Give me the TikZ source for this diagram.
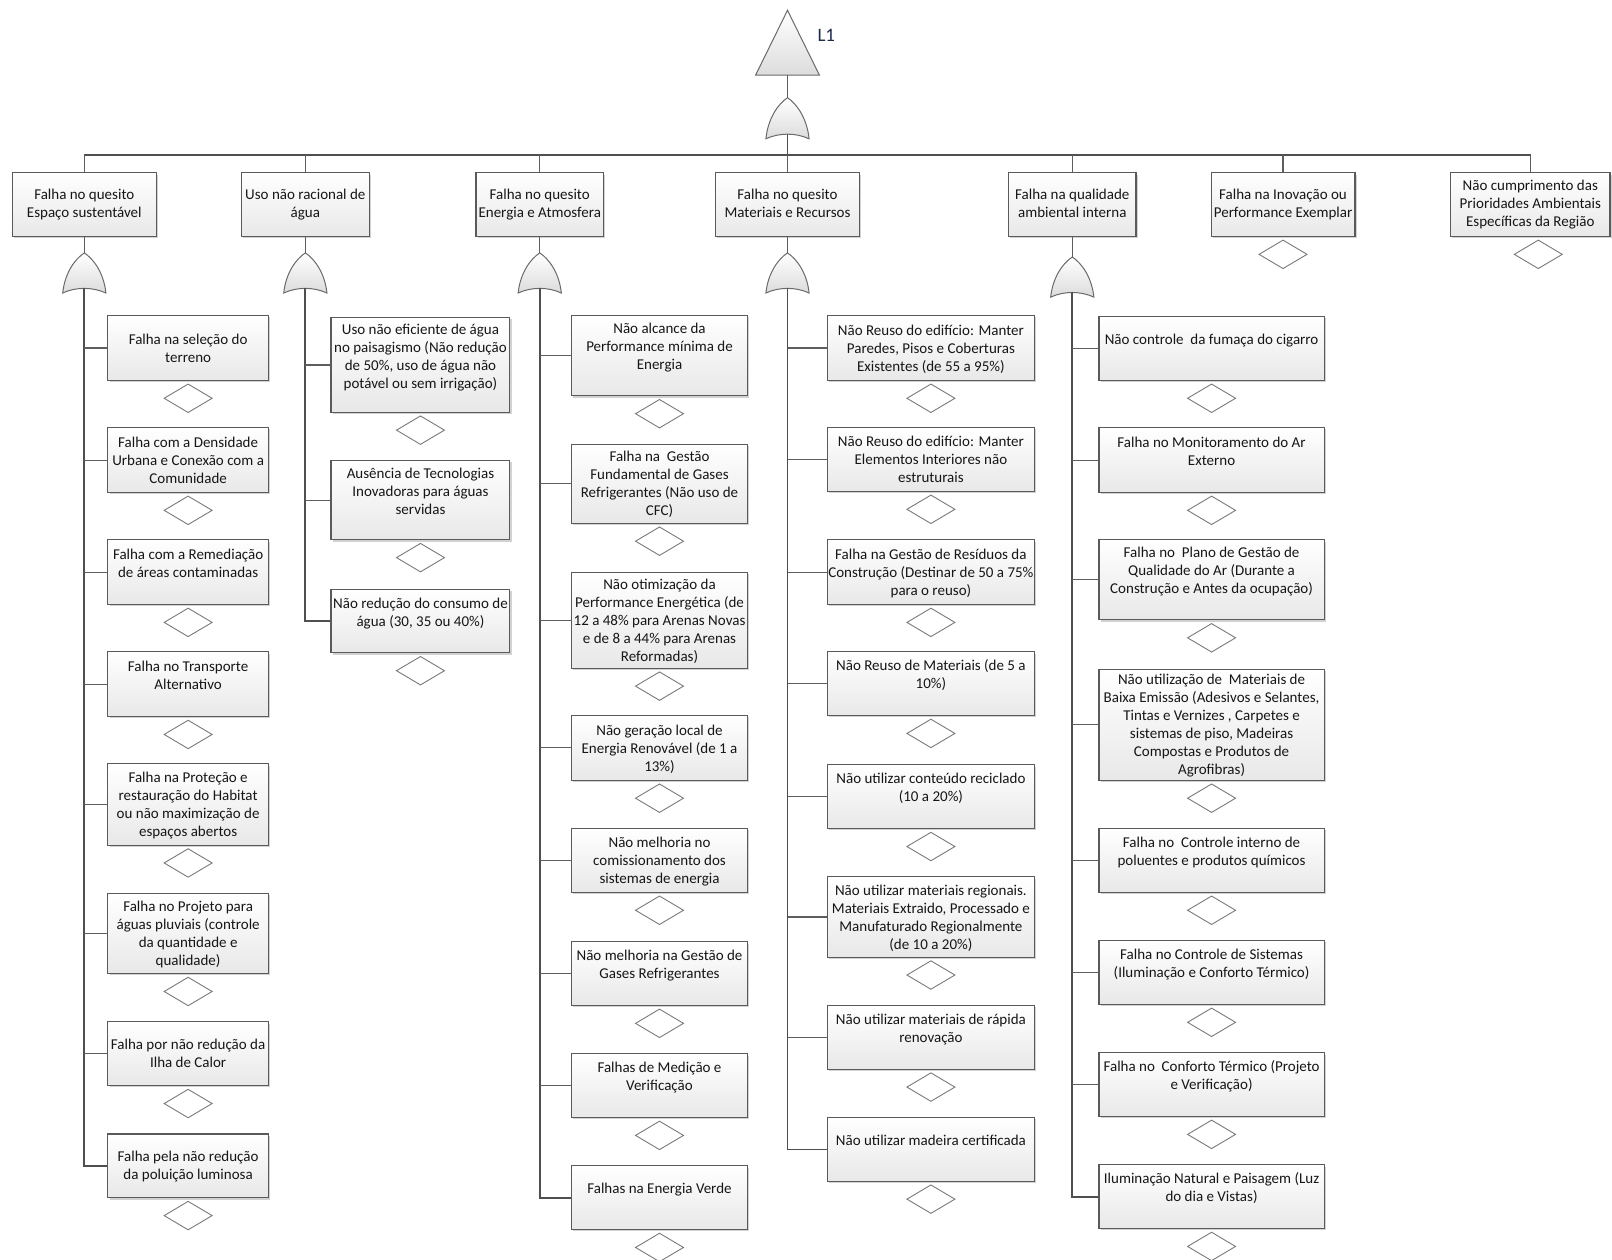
\documentclass[tikz,border=0pt]{standalone}
\usepackage{fontspec}
\setmainfont{Carlito}
\usetikzlibrary{shapes.geometric,shadows}

\definecolor{linecol}{HTML}{4F4F4F}
\definecolor{conncol}{HTML}{5E5E5E}
\definecolor{boxline}{HTML}{5A5A5A}
\definecolor{boxbot}{HTML}{E8E8E8}
\definecolor{diacol}{HTML}{7A7A7A}
\definecolor{gateline}{HTML}{6A6A6A}
\definecolor{gatebot}{HTML}{DCDCDC}
\definecolor{txtcol}{HTML}{161616}
\definecolor{labcol}{HTML}{1F2B4A}

\newcommand{\boxfont}{\fontsize{15}{18}\selectfont}
\newcommand{\blankln}{\\\mbox{}}
% slightly taller opening strut, so the text block sits a little lower in its box
\newcommand{\topstrut}{\rule{0pt}{15.6pt}}

\tikzset{
  evt/.style={draw=boxline, line width=1.1pt, top color=white, bottom color=boxbot,
    drop shadow={shadow xshift=1.8pt, shadow yshift=-1.8pt, fill=black!35, opacity=0.5},
    align=center, inner sep=0pt, font=\boxfont, text=txtcol},
  dia/.style={diamond, draw=diacol, line width=0.9pt, fill=white,
    minimum width=47*1.02806pt, minimum height=28*1.02806pt, inner sep=0pt},
  gate/.style={draw=gateline, line width=1pt, top color=white, bottom color=gatebot},
  mainln/.style={draw=linecol, line width=1.7pt},
  conn/.style={draw=conncol, line width=1.1pt},
}

% event box with its undeveloped-event diamond below
% #1 name, #2 centre x, #3 top y, #4 width, #5 height, #6 text
\newcommand{\evbox}[6]{%
  \node[evt, minimum width=#4*1.02806pt, minimum height=#5*1.02806pt] (#1) at (#2,{#3+#5/2}) {\topstrut#6\strut};
  \node[dia, anchor=north] (#1d) at ([yshift=-2.5pt]#1.south) {};
}
% category box on the first level: #1 name, #2 left x, #3 right x, #4 text
\newcommand{\catbox}[4]{%
  \node[evt, minimum width={(#3-#2)*1.02806pt}, minimum height=62*1.02806pt] (#1) at ({(#2+#3)/2},199) {\strut#4\strut};
}
% OR gate: #1 name, #2 centre x, #3 apex y, #4 height
\newcommand{\orgate}[4]{%
  \path[gate] ({#2-21},{#3+#4}) .. controls ({#2-19},{#3+0.5*#4}) and ({#2-9},{#3+0.15*#4}) .. (#2,#3)
    .. controls ({#2+9},{#3+0.15*#4}) and ({#2+19},{#3+0.5*#4}) .. ({#2+21},{#3+#4})
    .. controls ({#2+8},{#3+#4-6}) and ({#2-8},{#3+#4-6}) .. cycle;
  \coordinate (#1t) at (#2,#3);
  \coordinate (#1b) at (#2,{#3+#4-4.5});
}

\begin{document}
\begin{tikzpicture}[x=1.02806pt,y=-1.02806pt]
\fill[white] (0,0) rectangle (1568,1225);
\useasboundingbox (0,0) rectangle (1568,1225);

% top event
\path[gate] (766,10) -- (797,73) -- (735,73) -- cycle;
\coordinate (L1b) at (766,73);
\node[anchor=west, inner sep=0pt, font=\fontsize{19}{22}\selectfont, text=labcol] (L1) at (795,34) {L1};
\orgate{g0}{766}{95}{40}

\coordinate (busL) at (82,151);
\coordinate (busR) at (1489,151);

% first level
\catbox{cat1}{12}{152}{Falha no quesito\\Espaço sustentável}
\catbox{cat2}{235}{359}{Uso não racional de\\água}
\catbox{cat3}{463}{587}{Falha no quesito\\Energia e Atmosfera}
\catbox{cat4}{696}{836}{Falha no quesito\\Materiais e Recursos}
\catbox{cat5}{981}{1105}{Falha na qualidade\\ambiental interna}
\catbox{cat6}{1178}{1318}{Falha na Inovação ou\\Performance Exemplar}
\catbox{cat7}{1411}{1566}{Não cumprimento das\\Prioridades Ambientais\\Específicas da Região}
\node[dia, anchor=north] (cat6d) at ([yshift=-2.5pt]cat6.south) {};
\node[dia, anchor=north] (cat7d) at ([xshift=8pt,yshift=-2.5pt]cat7.south) {};

\orgate{g1}{82}{246}{39}
\orgate{g2}{297}{246}{39}
\orgate{g3}{525}{246}{39}
\orgate{g4}{766}{246}{39}
\orgate{g5}{1043}{250}{39}

% column 1
\evbox{c1a}{183}{307}{156}{63}{Falha na seleção do\\terreno}
\evbox{c1b}{183}{416}{156}{63}{Falha com a Densidade\\Urbana e Conexão com a\\Comunidade}
\evbox{c1c}{183}{525}{156}{63}{Falha com a Remediação\\de áreas contaminadas\blankln}
\evbox{c1d}{183}{634}{156}{63}{Falha no Transporte\\Alternativo\blankln}
\evbox{c1e}{183}{743}{156}{79}{Falha na Proteção e\\restauração do Habitat\\ou não maximização de\\espaços abertos}
\evbox{c1f}{183}{869}{156}{78}{Falha no Projeto para\\águas pluviais (controle\\da quantidade e\\qualidade)}
\evbox{c1g}{183}{994}{156}{62}{Falha por não redução da\\Ilha de Calor}
\evbox{c1h}{183}{1103}{156}{62}{Falha pela não redução\\da poluição luminosa}

% column 2
\evbox{c2a}{409}{309}{174}{92}{Uso não eficiente de água\\no paisagismo (Não redução\\de 50\%, uso de água não\\potável ou sem irrigação)\blankln}
\evbox{c2b}{409}{448}{174}{77}{Ausência de Tecnologias\\Inovadoras para águas\\servidas\blankln}
\evbox{c2c}{409}{573}{174}{62}{Não redução do consumo de\\água (30, 35 ou 40\%)\blankln}

% column 3
\evbox{c3a}{641.5}{307}{171}{78}{Não alcance da\\Performance mínima de\\Energia\blankln}
\evbox{c3b}{641.5}{432}{171}{77}{Falha na~ Gestão\\Fundamental de Gases\\Refrigerantes (Não uso de\\CFC)}
\evbox{c3c}{641.5}{557}{171}{93}{Não otimização da\\Performance Energética (de\\12 a 48\% para Arenas Novas\\e de 8 a 44\% para Arenas\\Reformadas)}
\evbox{c3d}{641.5}{696}{171}{63}{Não geração local de\\Energia Renovável (de 1 a\\13\%)}
\evbox{c3e}{641.5}{806}{171}{62}{Não melhoria no\\comissionamento dos\\sistemas de energia}
\evbox{c3f}{641.5}{916}{171}{62}{Não melhoria na Gestão de\\Gases Refrigerantes\blankln}
\evbox{c3g}{641.5}{1025}{171}{62}{Falhas de Medição e\\Verificação\blankln}
\evbox{c3h}{641.5}{1134}{171}{62}{Falhas na Energia Verde\blankln}

% column 4
\evbox{c4a}{905.5}{307}{201}{63}{Não Reuso do edifício: Manter\\Paredes, Pisos e Coberturas\\Existentes (de 55 a 95\%)}
\evbox{c4b}{905.5}{416}{201}{62}{Não Reuso do edifício: Manter\\Elementos Interiores não\\estruturais}
\evbox{c4c}{905.5}{525}{201}{63}{Falha na Gestão de Resíduos da\\Construção (Destinar de 50 a 75\%\\para o reuso)}
\evbox{c4d}{905.5}{634}{201}{62}{Não Reuso de Materiais (de 5 a\\10\%)\blankln}
\evbox{c4e}{905.5}{744}{201}{62}{Não utilizar conteúdo reciclado\\(10 a 20\%)\blankln}
\evbox{c4f}{905.5}{853}{201}{78}{Não utilizar materiais regionais.\\Materiais Extraido, Processado e\\Manufaturado Regionalmente\\(de 10 a 20\%)}
\evbox{c4g}{905.5}{978}{201}{62}{Não utilizar materiais de rápida\\renovação\blankln}
\evbox{c4h}{905.5}{1087}{201}{62}{Não utilizar madeira certificada\blankln}

% column 5
\evbox{c5a}{1178.5}{308}{219}{62}{Não controle~ da fumaça do cigarro\blankln}
\evbox{c5b}{1178.5}{416}{219}{63}{Falha no Monitoramento do Ar\\Externo\blankln}
\evbox{c5c}{1178.5}{525}{219}{78}{Falha no~ Plano de Gestão de\\Qualidade do Ar (Durante a\\Construção e Antes da ocupação)\blankln}
\evbox{c5d}{1178.5}{651}{219}{108}{Não utilização de~ Materiais de\\Baixa Emissão (Adesivos e Selantes,\\Tintas e Vernizes , Carpetes e\\sistemas de piso, Madeiras\\Compostas e Produtos de\\Agrofibras)}
\evbox{c5e}{1178.5}{806}{219}{62}{Falha no~ Controle interno de\\poluentes e produtos químicos\blankln}
\evbox{c5f}{1178.5}{915}{219}{62}{Falha no Controle de Sistemas\\(Iluminação e Conforto Térmico)\blankln}
\evbox{c5g}{1178.5}{1024}{219}{62}{Falha no~ Conforto Térmico (Projeto\\e Verificação)\blankln}
\evbox{c5h}{1178.5}{1133}{219}{62}{Iluminação Natural e Paisagem (Luz\\do dia e Vistas)\blankln}

% connectors of the upper levels
\draw[conn] (L1b) -- (g0t);
\draw[mainln] (g0b) -- (g0b |- busL);
\draw[mainln] (busL) -- (busR);
\foreach \c in {1,...,7} \draw[conn] (cat\c.north) -- (cat\c.north |- busL);
\foreach \c in {1,...,5} \draw[conn] (cat\c.south) -- (g\c t);

% column trunks and branches
\draw[mainln] (g1b) |- (c1h.west);
\foreach \k in {a,...,g} \draw[conn] (c1\k.west) -- (c1\k.west -| g1b);
\draw[mainln] (g2b) |- (c2c.west);
\foreach \k in {a,b} \draw[conn] (c2\k.west) -- (c2\k.west -| g2b);
\draw[mainln] (g3b) |- (c3h.west);
\foreach \k in {a,...,g} \draw[conn] (c3\k.west) -- (c3\k.west -| g3b);
\draw[mainln] (g4b) |- (c4h.west);
\foreach \k in {a,...,g} \draw[conn] (c4\k.west) -- (c4\k.west -| g4b);
\draw[mainln] (g5b) |- (c5h.west);
\foreach \k in {a,...,g} \draw[conn] (c5\k.west) -- (c5\k.west -| g5b);
\end{tikzpicture}
\end{document}
